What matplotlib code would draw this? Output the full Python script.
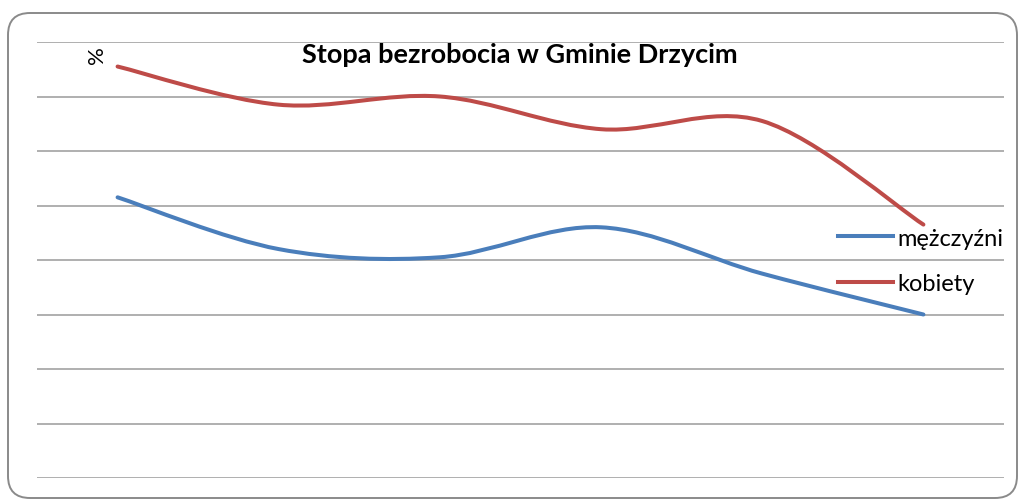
import numpy as np
import matplotlib
matplotlib.use('Agg')
import matplotlib.pyplot as plt
from matplotlib.path import Path
from matplotlib.patches import PathPatch, FancyBboxPatch
from matplotlib.lines import Line2D
from matplotlib.transforms import IdentityTransform

plt.rcParams['font.family'] = ['Lato', 'DejaVu Sans']

# data (gridlines every 2 units, 0..16)
periods = [0, 1, 2, 3, 4, 5]
kobiety = [15.1, 13.7, 14.0, 12.8, 13.1, 9.3]
mezczyzni = [10.3, 8.4, 8.1, 9.2, 7.5, 6.0]
series_names = ['mężczyźni', 'kobiety']
title = 'Stopa bezrobocia w Gminie Drzycim'

blue = '#4A7EBB'
red = '#BE4B48'


def smooth_path(xs, ys):
    # Excel-like smoothed line: cubic Bezier with Catmull-Rom control points
    pts = np.column_stack([xs, ys]).astype(float)
    n = len(pts)
    verts = [pts[0]]
    codes = [Path.MOVETO]
    for i in range(n - 1):
        p0 = pts[i - 1] if i > 0 else pts[i]
        p1 = pts[i]
        p2 = pts[i + 1]
        p3 = pts[i + 2] if i + 2 < n else pts[i + 1]
        c1 = p1 + (p2 - p0) / 6.0
        c2 = p2 - (p3 - p1) / 6.0
        verts += [c1, c2, p2]
        codes += [Path.CURVE4] * 3
    return Path(verts, codes)


fig = plt.figure(figsize=(10.19, 5.02), dpi=100)
ax = fig.add_axes([37 / 1019, 23 / 502, 967 / 1019, 436 / 502])
ax.set_xlim(-0.5, 5.5)
ax.set_ylim(0, 16)
ax.set_yticks(np.arange(0, 17, 2))
ax.set_xticks([])
ax.grid(axis='y', color='#9a9a9a', linewidth=1.1)
ax.tick_params(left=False, labelleft=False)
ax.set_axisbelow(True)
for s in ax.spines.values():
    s.set_visible(False)

for vals, col in [(mezczyzni, blue), (kobiety, red)]:
    patch = PathPatch(smooth_path(periods, vals), facecolor='none',
                      edgecolor=col, linewidth=2.9, capstyle='round')
    ax.add_patch(patch)

handles = [Line2D([], [], color=blue, linewidth=2.9),
           Line2D([], [], color=red, linewidth=2.9)]
fig.legend(handles, series_names, loc='center left',
           bbox_to_anchor=(829 / 1019, 1 - 262 / 502), frameon=False,
           fontsize=17, handlelength=2.3, handletextpad=0.2,
           labelspacing=1.05, borderaxespad=0)

fig.text(520 / 1019, 1 - 55 / 502, title, ha='center', va='center',
         fontsize=19.5, fontweight='bold')
fig.text(97 / 1019, 1 - 55 / 502, '%', ha='center', va='center',
         rotation=90, fontsize=16)

border = FancyBboxPatch((8, 3), 1009, 485, boxstyle='round,pad=0,rounding_size=22',
                        transform=IdentityTransform(), facecolor='none',
                        edgecolor='#8a8a8a', linewidth=1.4)
fig.patches.append(border)

fig.savefig('out.png', dpi=100)
